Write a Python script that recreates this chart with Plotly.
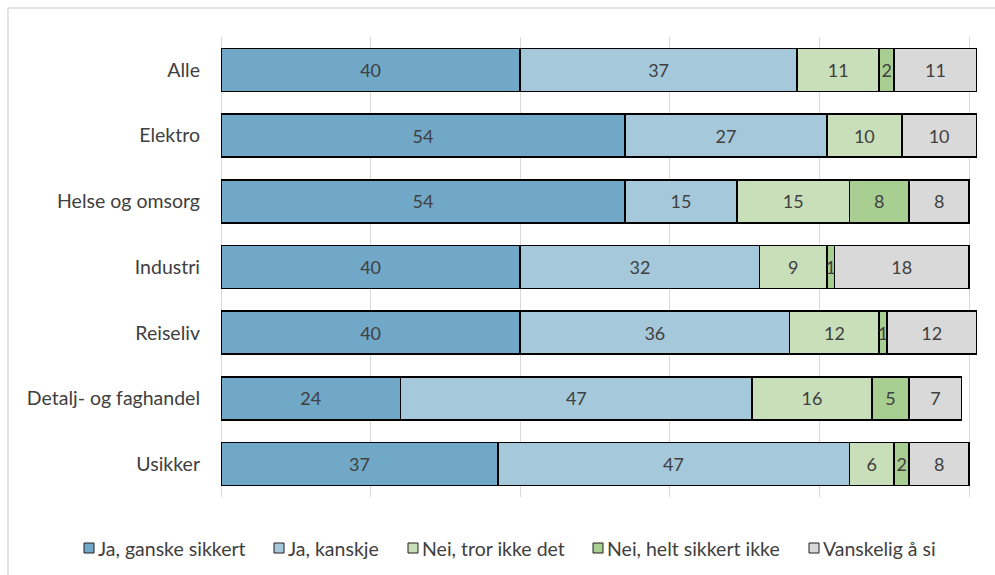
import plotly.graph_objects as go

categories = ["Alle", "Elektro", "Helse og omsorg", "Industri", "Reiseliv",
              "Detalj- og faghandel", "Usikker"]
series_names = ["Ja, ganske sikkert", "Ja, kanskje", "Nei, tror ikke det",
                "Nei, helt sikkert ikke", "Vanskelig å si"]
ja_ganske = [40, 54, 54, 40, 40, 24, 37]
ja_kanskje = [37, 27, 15, 32, 36, 47, 47]
nei_tror = [11, 10, 15, 9, 12, 16, 6]
nei_helt = [2, 0, 8, 1, 1, 5, 2]
vanskelig = [11, 10, 8, 18, 12, 7, 8]

series_values = [ja_ganske, ja_kanskje, nei_tror, nei_helt, vanskelig]
colors = ["#71A7C7", "#A5C8DB", "#C9DFB9", "#A8CE92", "#D9D9D9"]

FONT = "Lato, 'Open Sans', sans-serif"
TXT = "#404040"

# figure geometry (pixels)
W, H = 995, 575
ML, MR, MT, MB = 221, 11, 37, 78
PW, PH = W - ML - MR, H - MT - MB


def px_x(px):
    return (px - ML) / PW


def px_y(py):
    return 1 - (py - MT) / PH


fig = go.Figure()
for name, vals, col in zip(series_names, series_values, colors):
    fig.add_trace(go.Bar(
        y=categories, x=vals, name=name, orientation="h",
        marker=dict(color=col, line=dict(color="#000000", width=1.6)),
        text=[str(v) if v else "" for v in vals],
        textposition="inside", insidetextanchor="middle",
        textangle=0, constraintext="none",
        textfont=dict(family=FONT, size=18, color=TXT),
        hoverinfo="x+name", showlegend=False,
    ))

# legend drawn as boxes + text (matches the compact Excel style)
legend_box_left = [84, 274, 408, 593, 809]
legend_y = 548
shapes = [
    dict(type="line", xref="paper", yref="paper", x0=px_x(8), x1=px_x(1000),
         y0=px_y(8), y1=px_y(8), line=dict(color="#D9D9D9", width=1.5)),
    dict(type="line", xref="paper", yref="paper", x0=px_x(8), x1=px_x(8),
         y0=px_y(8), y1=px_y(580), line=dict(color="#D9D9D9", width=1.5)),
]
annotations = []
for name, col, bx in zip(series_names, colors, legend_box_left):
    shapes.append(dict(type="rect", xref="paper", yref="paper",
                       x0=px_x(bx), x1=px_x(bx + 10),
                       y0=px_y(legend_y - 5), y1=px_y(legend_y + 5),
                       fillcolor=col, line=dict(color="#202020", width=1)))
    annotations.append(dict(text=name, xref="paper", yref="paper",
                            x=px_x(bx + 12), y=px_y(legend_y),
                            xanchor="left", yanchor="middle", showarrow=False,
                            font=dict(family=FONT, size=19.5, color=TXT)))

fig.update_layout(
    barmode="stack",
    bargap=0.345,
    width=W, height=H,
    margin=dict(l=ML, r=MR, t=MT, b=MB),
    paper_bgcolor="white", plot_bgcolor="white",
    font=dict(family=FONT, size=17, color=TXT),
    showlegend=False,
    xaxis=dict(range=[0, 102], tick0=0, dtick=20, showticklabels=False,
               showgrid=True, gridcolor="#D9D9D9", gridwidth=1,
               zeroline=True, zerolinecolor="#D9D9D9", zerolinewidth=1,
               showline=False, fixedrange=True),
    yaxis=dict(autorange="reversed", showgrid=False, zeroline=False,
               showline=False, ticks="", ticklabelstandoff=20,
               tickfont=dict(family=FONT, size=19.5, color=TXT)),
    shapes=shapes,
    annotations=annotations,
)

fig.write_html("out.html")
